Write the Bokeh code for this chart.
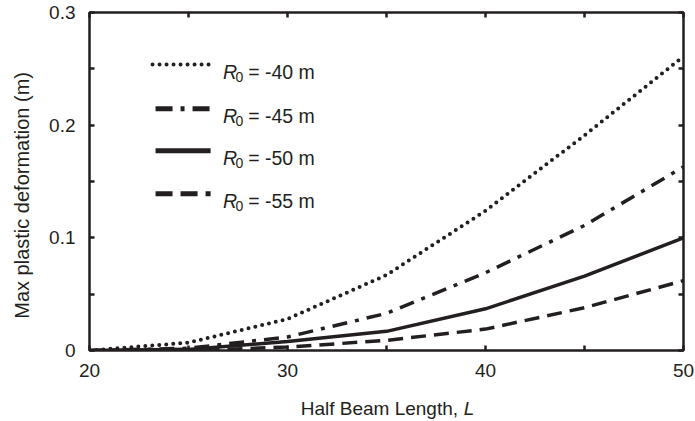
from bokeh.plotting import figure
from bokeh.layouts import column
from bokeh.models import LinearAxis, FixedTicker, CustomJSTickFormatter, ColumnDataSource, Range1d
from bokeh.core.properties import value
from bokeh.embed import file_html
from bokeh.resources import INLINE

# ---- data ----
half_length = [20, 25, 30, 35, 40, 45, 50]
r40 = [0.0, 0.007, 0.028, 0.067, 0.124, 0.191, 0.261]
r45 = [0.0, 0.002, 0.012, 0.033, 0.069, 0.111, 0.163]
r50 = [0.0, 0.001, 0.008, 0.017, 0.037, 0.066, 0.100]
r55 = [0.0, 0.000, 0.003, 0.009, 0.019, 0.038, 0.062]
series_labels = ["= -40 m", "= -45 m", "= -50 m", "= -55 m"]
x_ticks = [20, 25, 30, 35, 40, 45, 50]
y_ticks = [0, 0.05, 0.1, 0.15, 0.2, 0.25, 0.3]
x_title = "Half Beam Length,"
x_title_var = "L"
y_title = "Max plastic deformation (m)"

FONT = "Liberation Sans"
INK = "#231f20"
W, H = 695, 421
STRIP_TOP = 391          # the x-axis title lives in a strip below the plot
FL, FR, FT, FB = 89, 682.5, 12, 349.5
XMIN, XMAX, YMIN, YMAX = 20, 50, 0, 0.3


def px2x(px):
    return XMIN + (px - FL) * (XMAX - XMIN) / (FR - FL)


def px2y(py):
    return YMIN + (FB - py) * (YMAX - YMIN) / (FB - FT)


xr = Range1d(XMIN, XMAX)
p = figure(width=W, height=STRIP_TOP, x_range=xr, y_range=(YMIN, YMAX),
           output_backend="svg", toolbar_location=None,
           min_border_left=FL, min_border_right=int(W - FR),
           min_border_top=FT, min_border_bottom=int(STRIP_TOP - FB))
p.grid.visible = False
p.background_fill_color = "white"
p.border_fill_color = "white"
p.outline_line_color = INK
p.outline_line_width = 2.5

fmt = CustomJSTickFormatter(code="""
return (index % 2 == 0) ? String(Math.round(tick*10)/10) : '';
""")
blank = CustomJSTickFormatter(code="return '';")

for ax, ticks in ((p.xaxis[0], x_ticks), (p.yaxis[0], y_ticks)):
    ax.ticker = FixedTicker(ticks=ticks)
    ax.formatter = fmt
    ax.major_tick_in = 5
    ax.major_tick_out = 0
    ax.major_tick_line_width = 2.5
    ax.major_tick_line_color = INK
    ax.minor_tick_line_color = None
    ax.axis_line_color = None
    ax.major_label_text_font = FONT
    ax.major_label_text_font_size = "19px"
    ax.major_label_text_color = INK
    ax.axis_label_text_font = FONT
    ax.axis_label_text_font_style = "normal"
    ax.axis_label_text_color = INK

p.xaxis[0].major_label_standoff = 13
p.yaxis[0].major_label_standoff = 14
# trailing no-break spaces move the centred title a little towards the bottom, as in the reference
p.yaxis[0].axis_label = y_title + "\u00a0" * 5
p.yaxis[0].axis_label_text_font_size = "20px"
p.yaxis[0].axis_label_standoff = 13

for loc, ticks in (("right", y_ticks), ("above", x_ticks)):
    ax = LinearAxis(ticker=FixedTicker(ticks=ticks), formatter=blank,
                    major_tick_in=5, major_tick_out=0,
                    major_tick_line_width=2.5, major_tick_line_color=INK,
                    minor_tick_line_color=None, axis_line_color=None,
                    major_label_text_font_size="1px", major_label_standoff=0)
    p.add_layout(ax, loc)

styles = [
    dict(line_dash="0 7", line_cap="round", line_width=4),
    dict(line_dash="15 8 4 8", line_width=3.5),
    dict(line_dash="solid", line_width=3.5),
    dict(line_dash="15 8", line_width=3.5),
]
series = [r40, r45, r50, r55]

for ys, st in zip(series, styles):
    p.line(half_length, ys, line_color=INK, **st)

# ---- legend drawn by hand ----
row_px = [64, 108, 150, 193]
leg_styles = [
    dict(line_dash="0 7", line_cap="round", line_width=4),
    dict(line_dash="17 8 4 8", line_width=5),
    dict(line_dash="solid", line_width=5),
    dict(line_dash="17 8", line_width=5),
]
for i, (ry, st) in enumerate(zip(row_px, leg_styles)):
    x0 = 152 if i == 0 else 155
    p.line([px2x(x0), px2x(210)], [px2y(ry), px2y(ry)], line_color=INK, **st)

src_r = ColumnDataSource(dict(x=[px2x(222.5)] * 4, y=[px2y(r + 7.5) for r in row_px],
                              t=["R"] * 4))
src_s = ColumnDataSource(dict(x=[px2x(235)] * 4, y=[px2y(r + 12.5) for r in row_px],
                              t=["0"] * 4))
src_t = ColumnDataSource(dict(x=[px2x(247.5)] * 4, y=[px2y(r + 7.5) for r in row_px],
                              t=series_labels))
p.text(x="x", y="y", text="t", source=src_r, text_font=value(FONT),
       text_font_style="italic", text_font_size="19.5px", text_color=INK,
       text_baseline="alphabetic", text_align="left")
p.text(x="x", y="y", text="t", source=src_s, text_font=value(FONT),
       text_font_size="14px", text_color=INK,
       text_baseline="alphabetic", text_align="left")
p.text(x="x", y="y", text="t", source=src_t, text_font=value(FONT),
       text_font_size="19.5px", text_color=INK,
       text_baseline="alphabetic", text_align="left")

# ---- x-axis title strip: its frame is aligned with the main frame horizontally ----
sh = H - STRIP_TOP
strip = figure(width=W, height=sh, x_range=xr, y_range=Range1d(sh, 0),
               output_backend="svg", toolbar_location=None, title=None,
               x_axis_type=None, y_axis_type=None,
               min_border=0, min_border_left=FL, min_border_right=int(W - FR),
               min_border_top=0, min_border_bottom=0)
strip.grid.visible = False
strip.outline_line_color = None
strip.background_fill_color = "white"
strip.border_fill_color = "white"
base = 415.5 - 8 - STRIP_TOP
strip.text(x=[px2x(300)], y=[base], text=[x_title], text_font=value(FONT),
           text_font_size="19px", text_color=INK,
           text_baseline="alphabetic", text_align="left")
strip.text(x=[px2x(463)], y=[base], text=[x_title_var], text_font=value(FONT),
           text_font_size="19px", text_font_style="italic", text_color=INK,
           text_baseline="alphabetic", text_align="left")

layout = column(p, strip, spacing=0)
open("out.html", "w").write(file_html(layout, INLINE))
